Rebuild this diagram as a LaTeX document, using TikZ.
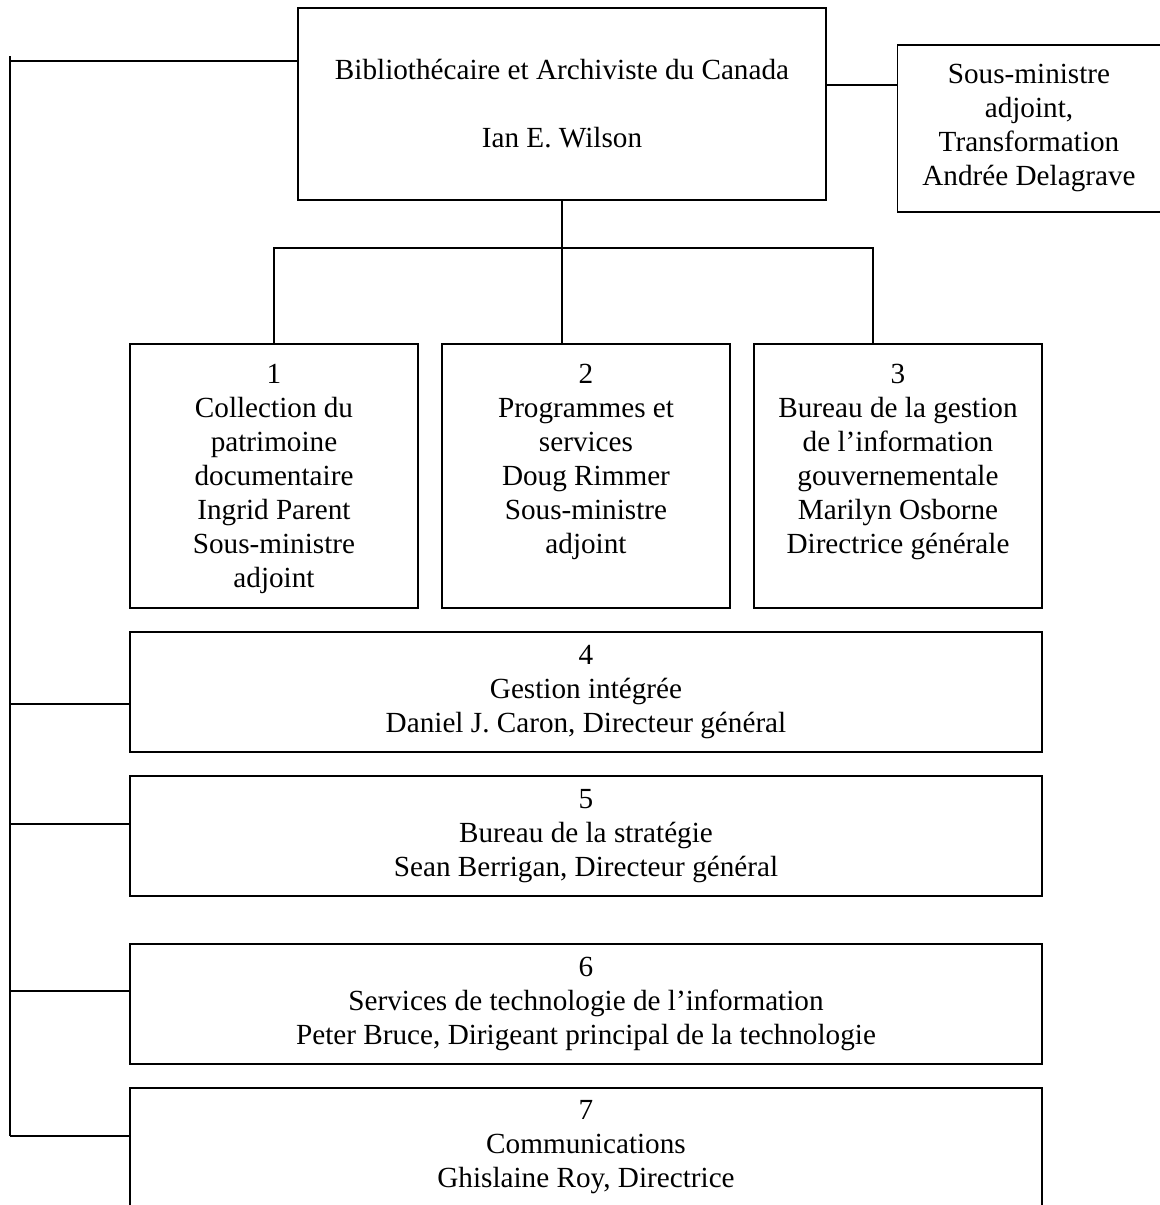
\documentclass[tikz,border=0pt]{standalone}
\usepackage{fontspec}
\setmainfont{Liberation Serif}
\usetikzlibrary{calc}
\begin{document}
\begin{tikzpicture}[x=0.5pt,y=-0.5pt,
  box/.style={draw=black, line width=0.85pt, rectangle, inner sep=0pt, align=center,
    font=\fontsize{14.6}{17}\selectfont},
  txt/.style={inner sep=0pt, align=center, anchor=north, font=\fontsize{14.6}{17}\selectfont},
  conn/.style={draw=black, line width=0.85pt},
  thin/.style={draw=black, line width=0.7pt}]
\useasboundingbox (0,0) rectangle (1160,1205);

% top box
\node[box, minimum width=264pt, minimum height=96pt] (top) at (562,104)
  {Bibliothécaire et Archiviste du Canada\\[17pt]Ian E. Wilson};

% right box (cut at the right edge)
\node[box, minimum width=133pt, minimum height=83.5pt] (rb) at (1030.5,128.5) {};
\node[txt] (rbt) at (1029,59) {\strut Sous-ministre\\adjoint,\\Transformation\\Andrée Delagrave};

% boxes 1-3
\node[box, minimum width=144pt, minimum height=132pt] (b1) at (274,476) {};
\node[box, minimum width=144pt, minimum height=132pt] (b2) at (586,476) {};
\node[box, minimum width=144pt, minimum height=132pt] (b3) at (898,476) {};
\node[txt] (b1t) at (274,359) {\strut 1\\Collection du\\patrimoine\\documentaire\\Ingrid Parent\\Sous-ministre\\adjoint};
\node[txt] (b2t) at (586,359) {\strut 2\\Programmes et\\services\\Doug Rimmer\\Sous-ministre\\adjoint};
\node[txt] (b3t) at (898,359) {\strut 3\\Bureau de la gestion\\de l’information\\gouvernementale\\Marilyn Osborne\\Directrice générale};

% boxes 4-7
\node[box, minimum width=456pt, minimum height=60pt] (b4) at (586,692)
  {4\\Gestion intégrée\\Daniel J. Caron, Directeur général};
\node[box, minimum width=456pt, minimum height=60pt] (b5) at (586,836)
  {5\\Bureau de la stratégie\\Sean Berrigan, Directeur général};
\node[box, minimum width=456pt, minimum height=60pt] (b6) at (586,1004)
  {6\\Services de technologie de l’information\\Peter Bruce, Dirigeant principal de la technologie};
\node[box, minimum width=456pt, minimum height=74pt] (b7) at (586,1162) {};
\node[txt] (b7t) at (586,1095) {\strut 7\\Communications\\Ghislaine Roy, Directrice};

% connectors: top to right box
\coordinate (tr) at (826,85);
\draw[thin] (tr) -- (tr -| rb.west);

% tree
\coordinate (hub) at (562,248);
\draw[conn] (top.south) -- (hub);
\draw[conn] (b1.north) |- (hub);
\draw[conn] (hub) -| ($(b3.north west)+(120,0)$);
\draw[conn] (hub) -- (hub |- b2.north);

% left spine
\coordinate (sptop) at (10,56);
\coordinate (spbot) at (10,1136);
\draw[conn] (sptop) -- (spbot);
\coordinate (s0) at (10,61);
\draw[thin] (s0) -- (s0 -| top.west);
\coordinate (s4) at (10,704);
\draw[conn] (s4) -- (s4 -| b4.west);
\coordinate (s5) at (10,824);
\draw[conn] (s5) -- (s5 -| b5.west);
\coordinate (s6) at (10,991);
\draw[conn] (s6) -- (s6 -| b6.west);
\draw[conn] (spbot) -- (spbot -| b7.west);
\end{tikzpicture}
\end{document}
